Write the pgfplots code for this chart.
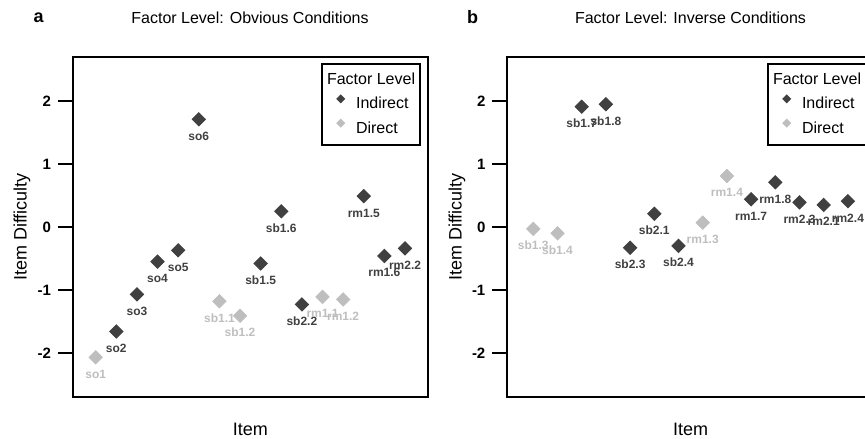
\documentclass[border=0pt]{standalone}
\usepackage{fontspec}
\setmainfont{Liberation Sans}
\usepackage{pgfplots}
\pgfplotsset{compat=1.18}
\definecolor{indir}{HTML}{404040}
\definecolor{dir}{HTML}{BEBEBE}

\pgfplotsset{
  itemplot/.style={
    scale only axis, height=170pt,
    ymin=-2.7, ymax=2.7,
    ytick={-2,-1,0,1,2}, ytick pos=left, xtick=\empty,
    tick align=outside, major tick length=7.3pt,
    axis line style={line width=1pt}, every tick/.style={line width=1pt, black},
    /pgf/number format/assume math mode=true,
    yticklabel style={font=\bfseries\fontsize{7.5}{9}\selectfont},
    xlabel={Item}, ylabel={Item Difficulty},
    label style={font=\fontsize{9}{11}\selectfont},
    xlabel style={at={(axis description cs:0.5,-0.112)}, anchor=base},
    legend style={at={(rel axis cs:0.980,0.982)}, anchor=north east,
      font=\fontsize{8}{10}\selectfont, draw=black, line width=0.8pt,
      legend cell align=left, inner xsep=2.5pt, inner ysep=4.5pt,
      row sep=4pt, column sep=1.5pt, nodes={inner sep=0pt}},
    legend image code/.code={\path[draw=none, fill=none] (0pt,0pt) -- (13pt,0pt); \draw[#1] plot coordinates {(6.85pt,2.8pt)};},
    only marks, mark=square*, mark size=2.35pt, mark options={rotate=45},
    point meta=explicit symbolic,
    nodes near coords,
    every node near coord/.style={anchor=base, yshift=-10.5pt, font=\bfseries\fontsize{6}{7}\selectfont},
  },
}
\newcommand{\factorlegend}{%
\addlegendimage{empty legend}
\addlegendentry{\hspace*{-14.5pt}\rule[-2.5pt]{0pt}{0pt}Factor Level}
\addlegendimage{only marks, mark=square*, mark size=1.2pt, mark options={rotate=45}, indir}
\addlegendentry{Indirect}
\addlegendimage{only marks, mark=square*, mark size=1.2pt, mark options={rotate=45}, dir}
\addlegendentry{Direct}
}

\begin{document}
\begin{tikzpicture}
\begin{axis}[itemplot, at={(36.35pt,-28.5pt)}, anchor=north west, width=177.65pt,
  xmin=-0.115, xmax=17.115,
  ylabel style={at={(axis description cs:-0.1295,0.5)}, anchor=base}]
\addplot[indir, forget plot, every node near coord/.append style={text=indir}] table[meta=lab] {
x y lab
2 -1.66 so2
3 -1.07 so3
4 -0.55 so4
5 -0.37 so5
6 1.71 so6
9 -0.58 sb1.5
10 0.25 sb1.6
11 -1.23 sb2.2
14 0.49 rm1.5
15 -0.46 rm1.6
16 -0.34 rm2.2
};
\addplot[dir, forget plot, every node near coord/.append style={text=dir}] table[meta=lab] {
x y lab
1 -2.07 so1
7 -1.18 sb1.1
8 -1.41 sb1.2
12 -1.11 rm1.1
13 -1.15 rm1.2
};
\factorlegend
\end{axis}

\begin{axis}[itemplot, at={(253.5pt,-28.5pt)}, anchor=north west, width=183.6pt,
  xmin=-0.087, xmax=15.087,
  ylabel style={at={(axis description cs:-0.1235,0.5)}, anchor=base}]
\addplot[indir, forget plot, every node near coord/.append style={text=indir}] table[meta=lab] {
x y lab
3 1.91 sb1.7
4 1.95 sb1.8
5 -0.33 sb2.3
6 0.21 sb2.1
7 -0.30 sb2.4
10 0.44 rm1.7
11 0.71 rm1.8
12 0.39 rm2.3
13 0.35 rm2.1
14 0.41 rm2.4
};
\addplot[dir, forget plot, every node near coord/.append style={text=dir}] table[meta=lab] {
x y lab
1 -0.03 sb1.3
2 -0.10 sb1.4
8 0.07 rm1.3
9 0.81 rm1.4
};
\factorlegend
\end{axis}

\node[anchor=base, inner sep=0pt, font=\fontsize{8}{10}\selectfont] at (125pt,-12pt) {Factor Level: Obvious Conditions};
\node[anchor=base, inner sep=0pt, font=\fontsize{8}{10}\selectfont] at (345.25pt,-12pt) {Factor Level: Inverse Conditions};
\node[anchor=base west, inner sep=0pt, font=\bfseries\fontsize{9}{11}\selectfont] at (16.6pt,-11.5pt) {a};
\node[anchor=base west, inner sep=0pt, font=\bfseries\fontsize{9}{11}\selectfont] at (233.3pt,-12pt) {b};
\pgfresetboundingbox
\path[use as bounding box] (0pt,0pt) rectangle (432.5pt,-219pt);
\end{tikzpicture}
\end{document}
